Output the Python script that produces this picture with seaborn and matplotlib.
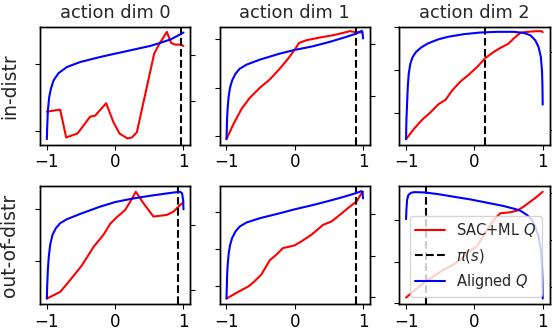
import matplotlib
matplotlib.use("Agg")
import matplotlib.pyplot as plt
import seaborn as sns

# ---------------- data ----------------
titles = ["action dim 0", "action dim 1", "action dim 2"]
row_labels = ["in-distr", "out-of-distr"]
xticks = [-1, 0, 1]

# row 0 (in-distr)
red_x_00 = [-1.0, -0.805, -0.717, -0.551, -0.366, -0.293, -0.132, -0.024, 0.063, 0.180, 0.244, 0.317, 0.571, 0.649, 0.756, 0.820, 0.878, 0.961, 1.0]
red_y_00 = [0.292, 0.322, -0.089, -0.030, 0.218, 0.233, 0.416, 0.134, -0.030, -0.104, -0.089, -0.015, 1.149, 1.297, 1.470, 1.307, 1.282, 1.282, 1.262]
blue_x_00 = [-1.0, -0.995, -0.985, -0.966, -0.941, -0.902, -0.829, -0.707, -0.512, -0.220, 0.0, 0.268, 0.512, 0.659, 0.805, 0.902, 1.0]
blue_y_00 = [-0.852, -0.593, -0.222, 0.074, 0.259, 0.444, 0.607, 0.741, 0.852, 0.963, 1.037, 1.126, 1.207, 1.274, 1.348, 1.422, 1.504]
pi_00 = 0.966

red_x_01 = [-1.0, -0.902, -0.780, -0.659, -0.512, -0.366, -0.220, -0.098, 0.0, 0.063, 0.171, 0.366, 0.561, 0.707, 0.805, 0.902, 0.990]
red_y_01 = [-0.055, 0.240, 0.562, 0.788, 0.993, 1.164, 1.384, 1.589, 1.774, 1.911, 1.966, 2.021, 2.068, 2.116, 2.151, 2.130, 2.123]
blue_x_01 = [-1.0, -0.995, -0.990, -0.980, -0.966, -0.946, -0.917, -0.868, -0.805, -0.707, -0.512, -0.220, 0.0, 0.268, 0.512, 0.756, 0.902, 0.980, 0.990, 1.0]
blue_y_01 = [-0.815, -0.624, -0.401, -0.178, 0.013, 0.172, 0.299, 0.427, 0.522, 0.599, 0.694, 0.809, 0.879, 0.949, 1.032, 1.127, 1.191, 1.242, 1.223, 1.096]
pi_01 = 0.902

red_x_02 = [-1.0, -0.886, -0.764, -0.642, -0.521, -0.423, -0.326, -0.204, -0.083, 0.039, 0.161, 0.282, 0.380, 0.501, 0.574, 0.672, 0.769, 0.915, 0.985, 1.0]
red_y_02 = [-0.612, -0.376, -0.157, 0.016, 0.212, 0.306, 0.525, 0.737, 0.894, 1.075, 1.286, 1.427, 1.522, 1.624, 1.741, 1.875, 1.898, 1.914, 1.914, 1.890]
blue_x_02 = [-1.0, -0.995, -0.985, -0.975, -0.961, -0.937, -0.903, -0.854, -0.781, -0.684, -0.538, -0.389, -0.156, 0.088, 0.331, 0.574, 0.720, 0.818, 0.891, 0.939, 0.973, 0.990, 0.997, 1.0]
blue_y_02 = [-0.113, 0.122, 0.336, 0.550, 0.722, 0.850, 0.936, 1.000, 1.056, 1.107, 1.158, 1.193, 1.227, 1.248, 1.257, 1.257, 1.244, 1.214, 1.150, 1.064, 0.936, 0.764, 0.550, 0.328]
pi_02 = 0.151

# row 1 (out-of-distr)
red_x_10 = [-1.0, -0.805, -0.659, -0.488, -0.317, -0.171, -0.073, 0.024, 0.146, 0.220, 0.302, 0.415, 0.561, 0.756, 0.854, 0.951, 1.0]
red_y_10 = [-0.720, -0.592, -0.363, -0.083, 0.274, 0.510, 0.720, 0.847, 0.987, 1.146, 1.338, 1.115, 0.860, 0.892, 0.955, 1.083, 1.134]
blue_x_10 = [-1.0, -0.995, -0.985, -0.971, -0.951, -0.917, -0.868, -0.805, -0.707, -0.512, -0.220, 0.0, 0.268, 0.512, 0.756, 0.902, 0.951, 0.980, 0.995, 1.0]
blue_y_10 = [-0.126, 0.066, 0.318, 0.520, 0.697, 0.848, 0.949, 1.025, 1.086, 1.167, 1.278, 1.348, 1.404, 1.444, 1.480, 1.500, 1.505, 1.480, 1.379, 1.237]
pi_10 = 0.927

red_x_11 = [-1.0, -0.829, -0.668, -0.585, -0.488, -0.366, -0.268, -0.171, -0.098, 0.0, 0.098, 0.244, 0.415, 0.537, 0.659, 0.805, 0.902, 0.976, 1.0]
red_y_11 = [-0.338, -0.160, 0.0, 0.133, 0.311, 0.693, 0.844, 1.022, 1.049, 1.093, 1.200, 1.378, 1.644, 1.733, 1.911, 2.133, 2.267, 2.489, 2.533]
blue_x_11 = [-1.0, -0.995, -0.990, -0.980, -0.966, -0.946, -0.917, -0.868, -0.805, -0.707, -0.512, -0.220, 0.0, 0.268, 0.512, 0.756, 0.927, 0.976, 0.990, 1.0]
blue_y_11 = [-0.040, 0.224, 0.544, 0.824, 1.064, 1.264, 1.424, 1.584, 1.704, 1.800, 1.904, 2.024, 2.120, 2.224, 2.328, 2.440, 2.528, 2.560, 2.536, 2.384]
pi_11 = 0.902

red_x_12 = [-1.0, -0.886, -0.740, -0.594, -0.448, -0.302, -0.204, -0.107, 0.039, 0.185, 0.282, 0.380, 0.526, 0.623, 0.720, 0.818, 0.915, 1.0]
red_y_12 = [0.135, 0.294, 0.492, 0.651, 0.810, 0.929, 1.048, 1.206, 1.365, 1.762, 2.000, 2.159, 2.183, 2.222, 2.317, 2.437, 2.556, 2.675]
blue_x_12 = [-1.0, -0.995, -0.985, -0.966, -0.927, -0.878, -0.730, -0.535, -0.302, -0.058, 0.185, 0.428, 0.574, 0.672, 0.769, 0.842, 0.891, 0.939, 0.973, 0.990, 0.997, 1.0]
blue_y_12 = [1.447, 1.645, 1.858, 1.965, 2.014, 2.028, 2.021, 1.986, 1.929, 1.872, 1.801, 1.730, 1.674, 1.631, 1.539, 1.433, 1.291, 1.078, 0.794, 0.440, 0.085, -0.255]
pi_12 = -0.715

panels = {
    (0, 0): (red_x_00, red_y_00, blue_x_00, blue_y_00, pi_00),
    (0, 1): (red_x_01, red_y_01, blue_x_01, blue_y_01, pi_01),
    (0, 2): (red_x_02, red_y_02, blue_x_02, blue_y_02, pi_02),
    (1, 0): (red_x_10, red_y_10, blue_x_10, blue_y_10, pi_10),
    (1, 1): (red_x_11, red_y_11, blue_x_11, blue_y_11, pi_11),
    (1, 2): (red_x_12, red_y_12, blue_x_12, blue_y_12, pi_12),
}

# axis limits and tick positions (left axis = SAC+ML Q, right axis = aligned Q)
red_ylim = {(0, 0): (-0.198, 1.545), (0, 1): (-0.171, 2.240), (0, 2): (-0.745, 2.016),
            (1, 0): (-0.828, 1.446), (1, 1): (-0.489, 2.684), (1, 2): (-0.024, 2.810)}
blue_ylim = {(0, 0): (-0.978, 1.630), (0, 1): (-0.924, 1.318), (0, 2): (-0.186, 1.321),
             (1, 0): (-0.212, 1.591), (1, 1): (-0.176, 2.680), (1, 2): (-0.376, 2.156)}
red_ticks = {(0, 0): [0, 1], (0, 1): [0, 1, 2], (0, 2): [0, 1, 2],
             (1, 0): [0, 1], (1, 1): [0, 1, 2], (1, 2): [0, 1, 2]}
blue_ticks = {(0, 0): [0, 1], (0, 1): [0, 1], (0, 2): [0, 1],
              (1, 0): [0, 1], (1, 1): [0, 1, 2], (1, 2): [0, 1, 2]}

# ---------------- plotting ----------------
sns.set_style("ticks")
plt.rcParams["font.family"] = ["DejaVu Sans"]
plt.rcParams["axes.edgecolor"] = "black"
plt.rcParams["xtick.color"] = "black"
plt.rcParams["ytick.color"] = "black"

fig, axes = plt.subplots(2, 3, figsize=(5.52, 3.31), dpi=100)
fig.subplots_adjust(left=0.0725, right=0.9955, top=0.919, bottom=0.081,
                    wspace=0.195, hspace=0.35)

for (r, c), (rx, ry, bx, by, pi) in panels.items():
    ax = axes[r, c]
    sns.lineplot(x=rx, y=ry, ax=ax, color="red", sort=False, estimator=None,
                 linewidth=1.5, legend=False, label="SAC+ML $Q$")
    ax.axvline(pi, color="black", linestyle="--", linewidth=1.5, label=r"$\pi(s)$")
    ax2 = ax.twinx()
    sns.lineplot(x=bx, y=by, ax=ax2, color="blue", sort=False, estimator=None,
                 linewidth=1.5, legend=False, label="Aligned $Q$")
    for a in (ax, ax2):
        if a.get_legend() is not None:
            a.get_legend().remove()
    ax.set_xlim(-1.1, 1.1)
    ax.set_xticks(xticks)
    ax.set_xticklabels([str(t) if t >= 0 else "\u2212" + str(-t) for t in xticks], fontsize=12)
    ax.tick_params(axis="x", pad=2.5)
    ax.set_ylim(*red_ylim[(r, c)])
    ax.set_yticks(red_ticks[(r, c)])
    ax.set_yticklabels([])
    ax2.set_ylim(*blue_ylim[(r, c)])
    ax2.set_yticks(blue_ticks[(r, c)])
    ax2.set_yticklabels([])
    for a in (ax, ax2):
        for s in a.spines.values():
            s.set_color("black")
            s.set_linewidth(1.0)
    if r == 0:
        ax.set_title(titles[c], fontsize=12.8)
    if c == 0:
        ax.set_ylabel(row_labels[r], fontsize=13.5, labelpad=8)
    if (r, c) == (1, 2):
        handles = [ax.lines[0], ax.lines[1], ax2.lines[0]]
        labels = ["SAC+ML $Q$", r"$\pi(s)$", "Aligned $Q$"]
        ax2.legend(handles, labels, loc="lower right", fontsize=10.5,
                   frameon=True, framealpha=0.8, edgecolor="0.8", fancybox=True)

fig.savefig("out.png", dpi=100)
